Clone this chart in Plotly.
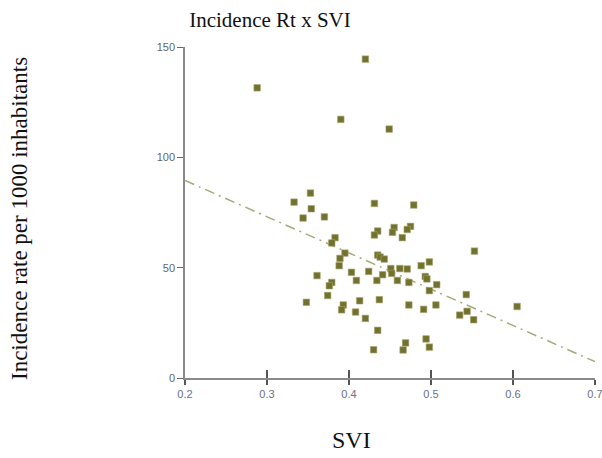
import plotly.graph_objects as go

svi = [0.288, 0.420, 0.390, 0.449, 0.333, 0.353, 0.354, 0.344, 0.370, 0.431,
       0.479, 0.383, 0.379, 0.435, 0.431, 0.455, 0.453, 0.475, 0.471, 0.465,
       0.395, 0.389, 0.388, 0.435, 0.438, 0.443, 0.498, 0.488, 0.553, 0.451,
       0.462, 0.471, 0.424, 0.403, 0.452, 0.361, 0.441, 0.493, 0.495, 0.459,
       0.434, 0.409, 0.473, 0.379, 0.376, 0.507, 0.498, 0.374, 0.543, 0.348,
       0.393, 0.391, 0.413, 0.437, 0.473, 0.506, 0.491, 0.544, 0.535, 0.552,
       0.605, 0.408, 0.420, 0.435, 0.469, 0.466, 0.494, 0.498, 0.430]
incidence = [131.5, 144.5, 117.2, 112.8, 79.7, 83.8, 76.7, 72.5, 73.0, 79.1,
             78.4, 63.6, 61.2, 66.6, 64.8, 68.2, 66.0, 68.7, 67.3, 63.6,
             56.6, 54.2, 50.9, 55.7, 54.8, 53.9, 52.6, 50.9, 57.5, 49.6,
             49.6, 49.4, 48.3, 47.9, 47.4, 46.4, 46.8, 46.0, 44.9, 44.2,
             44.2, 44.2, 43.3, 43.3, 41.8, 42.3, 39.6, 37.4, 37.8, 34.3,
             33.1, 30.9, 35.0, 35.5, 33.1, 33.1, 31.1, 30.2, 28.5, 26.4,
             32.4, 29.9, 27.0, 21.6, 15.9, 12.7, 17.7, 14.0, 12.8]

trend_x = [0.2, 0.7]
trend_y = [89.5, 7.4]

x_ticks = [0.2, 0.3, 0.4, 0.5, 0.6, 0.7]
x_tick_labels = ["0.2", "0.3", "0.4", "0.5", "0.6", "0.7"]
y_ticks = [0, 50, 100, 150]
y_tick_labels = ["0", "50", "100", "150"]

fig = go.Figure()
fig.add_trace(go.Scatter(
    x=trend_x, y=trend_y, mode="lines",
    line=dict(color="#a8a878", width=1.5, dash="10px,5px,2px,5px"),
    hoverinfo="skip", showlegend=False, cliponaxis=False))
fig.add_trace(go.Scatter(
    x=svi, y=incidence, mode="markers",
    marker=dict(symbol="square", size=6.5, color="#72722e",
                line=dict(width=0.6, color="#a4a470")),
    showlegend=False, cliponaxis=False))
# invisible trace to carry the overlay axis that draws the upward half of the x ticks
fig.add_trace(go.Scatter(x=trend_x, y=trend_y, xaxis="x2", mode="lines",
                         line=dict(width=0), opacity=0, hoverinfo="skip", showlegend=False))

fig.update_layout(
    width=602, height=458,
    margin=dict(l=185, r=7, t=47, b=80, autoexpand=False),
    paper_bgcolor="white", plot_bgcolor="white",
    title=dict(text="Incidence Rt x SVI", x=270/602, xref="container", xanchor="center",
               y=1 - 20/458, yref="container", yanchor="middle",
               font=dict(family="Liberation Serif", size=21, color="#111111")),
    xaxis=dict(range=[0.2, 0.7], tickvals=x_ticks, ticktext=x_tick_labels,
               showgrid=False, zeroline=False, showline=True, linecolor="#8a8a8a",
               linewidth=2, ticks="outside", ticklen=5, tickwidth=1.5, tickcolor="#555555",
               ticklabeloverflow="allow", automargin=False,
               tickfont=dict(family="Liberation Sans", size=11, color="#6a7088")),
    xaxis2=dict(range=[0.2, 0.7], tickvals=x_ticks, overlaying="x", side="bottom",
                showticklabels=False, showgrid=False, zeroline=False, showline=False,
                ticks="inside", ticklen=8, tickwidth=1.5, tickcolor="#555555",
                automargin=False),
    yaxis=dict(range=[0, 150], tickvals=y_ticks, ticktext=y_tick_labels,
               showgrid=False, zeroline=False, showline=True, linecolor="#8a8a8a",
               linewidth=1.5, ticks="outside", ticklen=6, tickwidth=1.2, tickcolor="#666666",
               automargin=False,
               tickfont=dict(family="Liberation Sans", size=11, color="#666666")),
    annotations=[
        dict(text="SVI", xref="paper", yref="paper", x=(351-185)/410, y=-(440-378)/331,
             xanchor="center", yanchor="middle", showarrow=False,
             font=dict(family="Liberation Serif", size=24, color="#111111")),
        dict(text="Incidence rate per 1000 inhabitants", xref="paper", yref="paper",
             x=-(185-19)/410, y=(378-219)/331, xanchor="center", yanchor="middle",
             textangle=-90, showarrow=False,
             font=dict(family="Liberation Serif", size=23, color="#111111")),
    ],
)

fig.write_html("out.html")
